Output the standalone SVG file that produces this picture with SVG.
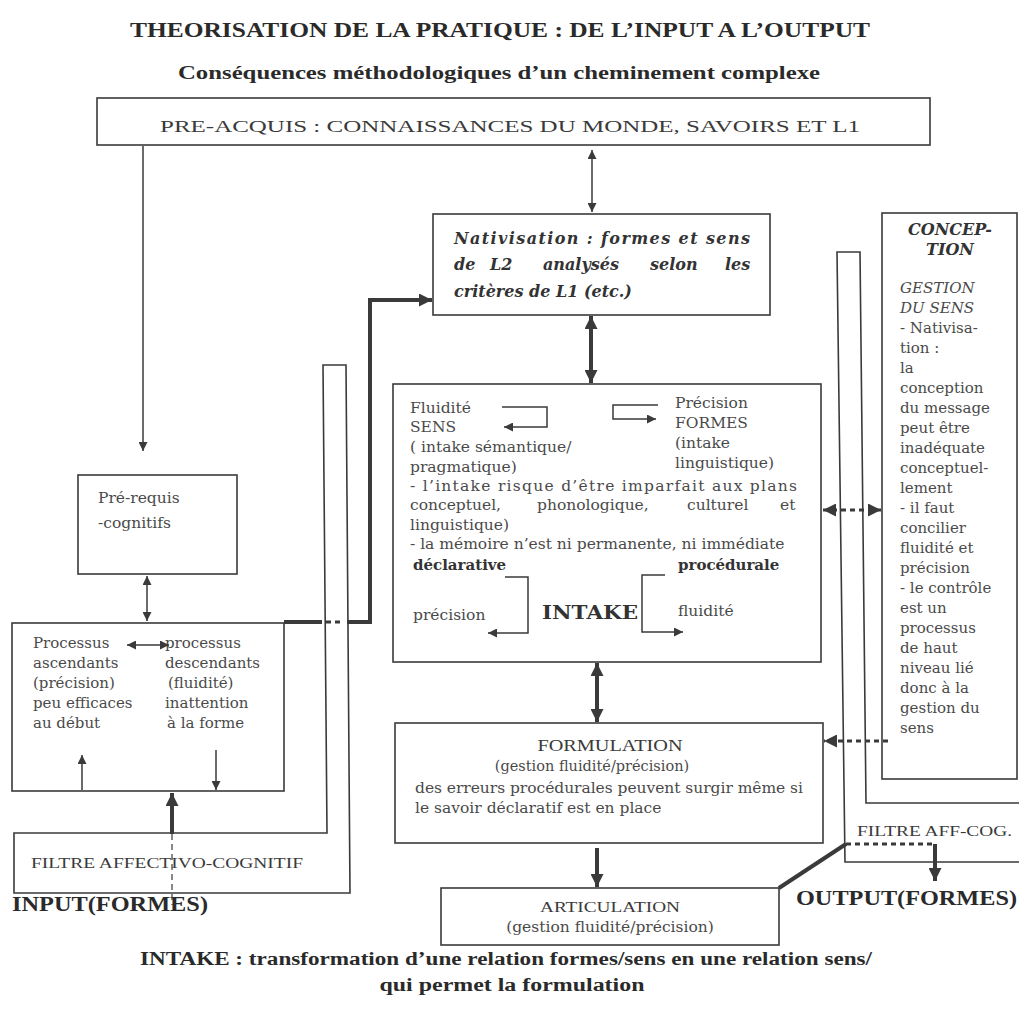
<svg xmlns="http://www.w3.org/2000/svg" width="1019" height="1015" viewBox="0 0 1019 1015">
<defs>
<style>
.box{fill:none;stroke:#3a3a3a;stroke-width:1.6}
.ln{fill:none;stroke:#3a3a3a;stroke-width:1.5}
.thk{fill:none;stroke:#3a3a3a;stroke-width:4}
.dot{fill:none;stroke:#3a3a3a;stroke-width:3;stroke-dasharray:5 4}
.dash{fill:none;stroke:#3a3a3a;stroke-width:1.2;stroke-dasharray:6 4}
.ttl{font-family:"Liberation Serif",serif;font-weight:bold;fill:#2a2a2a}
.cap{font-family:"Liberation Serif",serif;fill:#3a3a3a}
.b{font-family:"DejaVu Serif",serif;fill:#4a4a4a;font-size:15.5px}
.bb{font-family:"DejaVu Serif",serif;fill:#333;font-weight:bold}
.c{font-family:"DejaVu Serif",serif;fill:#4a4a4a;font-size:15px}
.nat{font-family:"DejaVu Serif",serif;font-style:italic;font-weight:bold;fill:#333;font-size:16px}
</style>
<marker id="a" viewBox="0 0 10 10" refX="10" refY="5" markerWidth="10" markerHeight="9" markerUnits="userSpaceOnUse" orient="auto-start-reverse"><path d="M0,0 L10,5 L0,10 z" fill="#3a3a3a"/></marker>
<marker id="A" viewBox="0 0 10 10" refX="10" refY="5" markerWidth="13" markerHeight="13" markerUnits="userSpaceOnUse" orient="auto-start-reverse"><path d="M0,0 L10,5 L0,10 z" fill="#3a3a3a"/></marker>
</defs>
<rect width="1019" height="1015" fill="#fff"/>

<g id="titles">
<text class="ttl" x="130" y="37" font-size="20" textLength="740" lengthAdjust="spacingAndGlyphs">THEORISATION DE LA PRATIQUE : DE L’INPUT A L’OUTPUT</text>
<text class="ttl" x="178" y="79" font-size="18" textLength="642" lengthAdjust="spacingAndGlyphs">Conséquences méthodologiques d’un cheminement complexe</text>
</g>

<g id="preacquis">
<rect class="box" x="97" y="98" width="833" height="47"/>
<text class="cap" x="160" y="132" font-size="17" textLength="700" lengthAdjust="spacingAndGlyphs">PRE-ACQUIS : CONNAISSANCES DU MONDE, SAVOIRS ET L1</text>
</g>

<g id="prerequis">
<rect class="box" x="78" y="475" width="159" height="99"/>
<text class="b" x="98" y="503" font-size="19">Pré-requis</text>
<text class="b" x="98" y="528" font-size="19">-cognitifs</text>
</g>

<g id="processus">
<rect class="box" x="12" y="623" width="272" height="168"/>
<g class="c">
<text x="33" y="648">Processus</text>
<text x="33" y="668">ascendants</text>
<text x="33" y="688">(précision)</text>
<text x="33" y="708">peu efficaces</text>
<text x="33" y="728">au début</text>
<text x="165" y="648">processus</text>
<text x="165" y="668">descendants</text>
<text x="168" y="688">(fluidité)</text>
<text x="165" y="708">inattention</text>
<text x="167" y="728">à la forme</text>
</g>
</g>

<g id="filtre-gauche">
<path class="box" d="M14,833 H327 L323,365 H346 L350,893 H14 Z"/>
<text class="cap" x="31" y="868" font-size="15" textLength="272" lengthAdjust="spacingAndGlyphs">FILTRE AFFECTIVO-COGNITIF</text>
</g>

<g id="nativisation">
<rect class="box" x="433" y="214" width="337" height="101"/>
<g class="nat">
<text x="454" y="244" textLength="296" lengthAdjust="spacing">Nativisation : formes et sens</text>
<text y="270"><tspan x="454">de</tspan><tspan x="490">L2</tspan><tspan x="543">analysés</tspan><tspan x="650">selon</tspan><tspan x="725">les</tspan></text>
<text x="454" y="297">critères de L1 (etc.)</text>
</g>
</g>

<g id="intake">
<rect class="box" x="393" y="384" width="428" height="278"/>
<g class="b">
<text x="410" y="413">Fluidité</text>
<text x="410" y="432">SENS</text>
<text x="410" y="452">( intake sémantique/</text>
<text x="410" y="472">pragmatique)</text>
<text x="675" y="408">Précision</text>
<text x="675" y="428">FORMES</text>
<text x="675" y="448">(intake</text>
<text x="675" y="468">linguistique)</text>
<text x="410" y="491" textLength="387" lengthAdjust="spacing">- l’intake risque d’être imparfait aux plans</text>
<text y="510"><tspan x="410">conceptuel,</tspan><tspan x="537">phonologique,</tspan><tspan x="687">culturel</tspan><tspan x="780">et</tspan></text>
<text x="410" y="530">linguistique)</text>
<text x="410" y="549">- la mémoire n’est ni permanente, ni immédiate</text>
<text x="413" y="620">précision</text>
<text x="678" y="616">fluidité</text>
</g>
<text class="bb" x="413" y="570" font-size="15">déclarative</text>
<text class="bb" x="678" y="570" font-size="15">procédurale</text>
<text class="bb" x="542" y="619" font-size="19" textLength="96" lengthAdjust="spacingAndGlyphs">INTAKE</text>
<g class="ln">
<path d="M502,407 H547 V427 H504" marker-end="url(#a)"/>
<path d="M658,405 H613 V419 H656" marker-end="url(#a)"/>
<path d="M505,577 H528 V633 H488" marker-end="url(#a)"/>
<path d="M665,575 H642 V632 H683" marker-end="url(#a)"/>
</g>
</g>

<g id="formulation">
<rect class="box" x="395" y="723" width="428" height="120"/>
<text class="cap" x="610" y="751" font-size="16" text-anchor="middle" textLength="145" lengthAdjust="spacingAndGlyphs">FORMULATION</text>
<g class="b">
<text x="592" y="771" text-anchor="middle" font-size="14.5">(gestion fluidité/précision)</text>
<text x="415" y="793" textLength="388" lengthAdjust="spacing">des erreurs procédurales peuvent surgir même si</text>
<text x="415" y="813">le savoir déclaratif est en place</text>
</g>
</g>

<g id="articulation">
<rect class="box" x="441" y="888" width="338" height="57"/>
<text class="cap" x="610" y="912" font-size="15" text-anchor="middle" textLength="140" lengthAdjust="spacingAndGlyphs">ARTICULATION</text>
<text class="b" x="610" y="932" font-size="13" text-anchor="middle">(gestion fluidité/précision)</text>
</g>

<g id="conception">
<rect class="box" x="882" y="213" width="135" height="566"/>
<text class="nat" x="950" y="235" text-anchor="middle" font-size="15">CONCEP-</text>
<text class="nat" x="950" y="255" text-anchor="middle" font-size="15">TION</text>
<g class="c">
<text x="900" y="293" font-style="italic">GESTION</text>
<text x="900" y="313" font-style="italic">DU SENS</text>
<text x="900" y="333">- Nativisa-</text>
<text x="900" y="353">tion :</text>
<text x="900" y="373">la</text>
<text x="900" y="393">conception</text>
<text x="900" y="413">du message</text>
<text x="900" y="433">peut être</text>
<text x="900" y="453">inadéquate</text>
<text x="900" y="473">conceptuel-</text>
<text x="900" y="493">lement</text>
<text x="900" y="513">- il faut</text>
<text x="900" y="533">concilier</text>
<text x="900" y="553">fluidité et</text>
<text x="900" y="573">précision</text>
<text x="900" y="593">- le contrôle</text>
<text x="900" y="613">est un</text>
<text x="900" y="633">processus</text>
<text x="900" y="653">de haut</text>
<text x="900" y="673">niveau lié</text>
<text x="900" y="693">donc à la</text>
<text x="900" y="713">gestion du</text>
<text x="900" y="733">sens</text>
</g>
</g>

<g id="filtre-droit">
<path class="box" d="M1019,803 H866 L860,252 H837 L845,862 H1019"/>
<text class="cap" x="857" y="836" font-size="15" textLength="155" lengthAdjust="spacingAndGlyphs">FILTRE AFF-COG.</text>
</g>

<g id="labels">
<text class="ttl" x="12" y="911" font-size="21" textLength="196" lengthAdjust="spacingAndGlyphs">INPUT(FORMES)</text>
<text class="ttl" x="796" y="905" font-size="21" textLength="221" lengthAdjust="spacingAndGlyphs">OUTPUT(FORMES)</text>
<text class="ttl" x="506" y="965" font-size="18" text-anchor="middle" textLength="732" lengthAdjust="spacingAndGlyphs">INTAKE : transformation d’une relation formes/sens en une relation sens/</text>
<text class="ttl" x="512" y="991" font-size="18" text-anchor="middle" textLength="265" lengthAdjust="spacingAndGlyphs">qui permet la formulation</text>
</g>

<g id="connectors">
<line class="ln" x1="143" y1="146" x2="143" y2="451" marker-end="url(#a)"/>
<line class="ln" x1="592" y1="150" x2="592" y2="212" marker-start="url(#a)" marker-end="url(#a)"/>
<line class="ln" x1="147" y1="576" x2="147" y2="621" marker-start="url(#a)" marker-end="url(#a)"/>
<line class="thk" x1="591" y1="316" x2="591" y2="383" marker-start="url(#A)" marker-end="url(#A)"/>
<line class="thk" x1="597" y1="663" x2="597" y2="722" marker-start="url(#A)" marker-end="url(#A)"/>
<line class="thk" x1="597" y1="848" x2="597" y2="887" marker-end="url(#A)"/>
<path class="thk" d="M284,622 H322"/>
<path class="dot" d="M326,622 H344"/>
<path class="thk" d="M347,622 H370 V300 H432" marker-end="url(#A)"/>
<line class="thk" x1="172" y1="834" x2="172" y2="793" marker-end="url(#A)"/>
<line class="dash" x1="172" y1="834" x2="172" y2="905"/>
<line class="ln" x1="82" y1="790" x2="82" y2="755" marker-end="url(#a)"/>
<line class="ln" x1="216" y1="750" x2="216" y2="790" marker-end="url(#a)"/>
<line class="ln" x1="127" y1="645" x2="169" y2="645" marker-start="url(#a)" marker-end="url(#a)"/>
<line class="dot" x1="823" y1="510" x2="881" y2="510" marker-start="url(#A)" marker-end="url(#A)"/>
<line class="dot" x1="888" y1="741" x2="824" y2="741" marker-end="url(#A)"/>
<line class="thk" x1="779" y1="888" x2="846" y2="844"/>
<line class="dot" x1="846" y1="844" x2="935" y2="844"/>
<line class="thk" x1="935" y1="844" x2="935" y2="881" marker-end="url(#A)"/>
</g>
</svg>
